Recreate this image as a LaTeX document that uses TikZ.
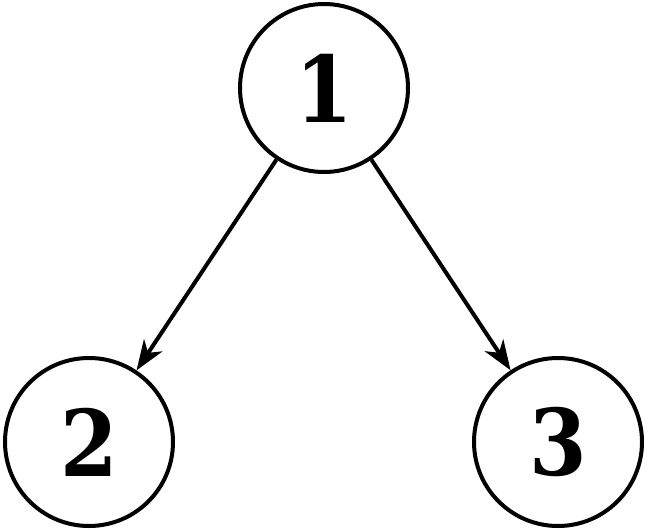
\documentclass[tikz,border=0pt]{standalone}
\usepackage{fontspec}
\setmainfont{DejaVu Serif Condensed}
\usetikzlibrary{arrows.meta}
\begin{document}
\begin{tikzpicture}[x=1pt,y=-1pt,
  vertex/.style={circle,draw,line width=4pt,minimum size=168pt,inner sep=0pt,
    font=\fontsize{92}{92}\selectfont\bfseries},
  edge/.style={line width=4pt,-{Stealth[length=30pt,width=22pt,inset=9pt]}}]
  \useasboundingbox (0,0) rectangle (648,530);
  \node[vertex] (n1) at (324,88) {1};
  \node[vertex] (n2) at (89,442) {2};
  \node[vertex] (n3) at (558,442) {3};
  \draw[edge] (n1) -- (n2);
  \draw[edge] (n1) -- (n3);
\end{tikzpicture}
\end{document}
